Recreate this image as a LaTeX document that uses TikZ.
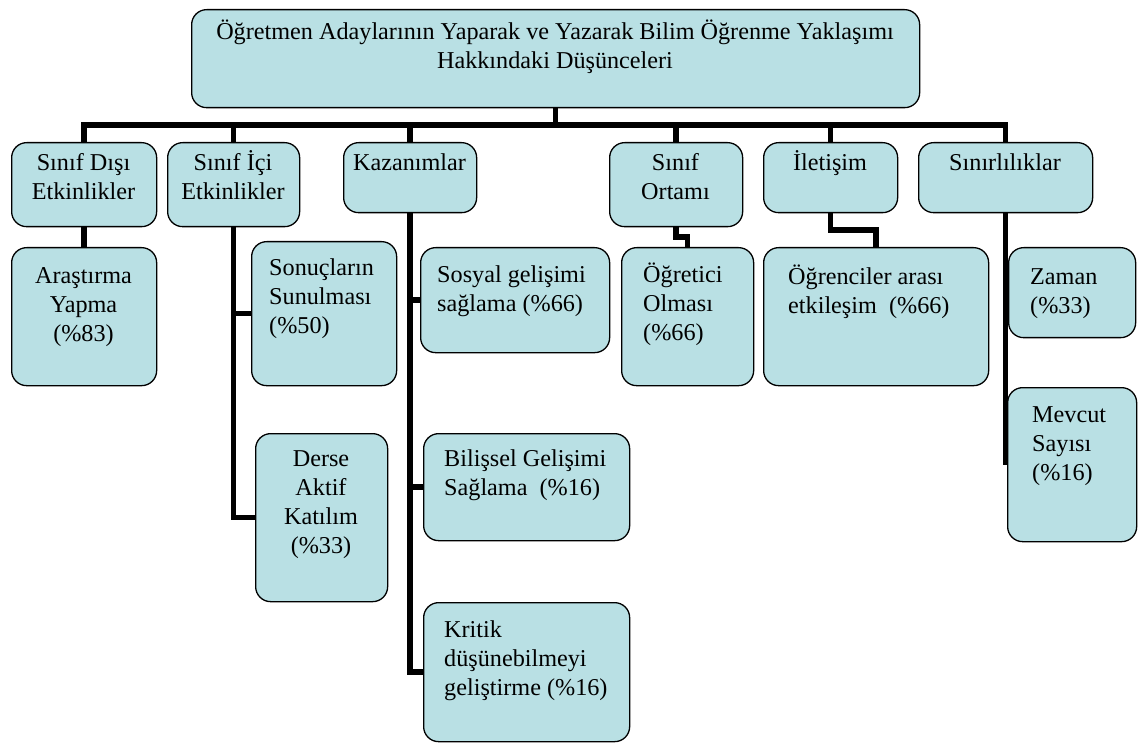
\documentclass[tikz,border=0pt]{standalone}
\usepackage{fontspec}
\setmainfont{Liberation Serif}
\usetikzlibrary{calc,backgrounds}
\definecolor{boxfill}{RGB}{185,224,228}
\begin{document}
\begin{tikzpicture}[x=1pt,y=-1pt,
  bx/.style={draw=black,line width=1.3pt,fill=boxfill,rounded corners=15pt,inner sep=0pt,anchor=north west},
  tx/.style={inner sep=0pt,font=\fontsize{24.2}{29}\selectfont},
  txc/.style={tx,anchor=north,align=center},
  txl/.style={tx,anchor=north west,align=left},
  conn/.style={line width=5.5pt,black,line join=miter}]
\useasboundingbox (0,0) rectangle (1138,743);
\newcommand\mybox[5]{\node[bx,minimum width=#4pt,minimum height=#5pt] (#1) at (#2,#3) {};}
% boxes
\mybox{top}{191}{9}{728}{98}
\mybox{SD}{11}{142}{145}{84}
\mybox{SI}{167}{142}{132}{84}
\mybox{KZ}{343}{142}{133}{70}
\mybox{SO}{609}{142}{133}{84}
\mybox{IL}{763}{142}{134}{70}
\mybox{SN}{918}{142}{174}{70}
\mybox{AR}{11}{247}{145}{138}
\mybox{SS}{251}{241}{145}{144}
\mybox{DA}{255}{433}{132}{168}
\mybox{SG}{420}{247}{189}{105}
\mybox{BG}{423}{433}{206}{107}
\mybox{KD}{423}{602}{206}{139}
\mybox{OO}{621}{247}{132}{138}
\mybox{OA}{763}{247}{225}{138}
\mybox{ZM}{1008}{247}{127}{90}
\mybox{MS}{1007}{387}{129}{154}
% texts
\node[txc] (topt) at (555,19) {\strut Öğretmen Adaylarının Yaparak ve Yazarak Bilim Öğrenme Yaklaşımı\\Hakkındaki Düşünceleri};
\node[txc] (SDt) at (83.5,150) {\strut Sınıf Dışı\\Etkinlikler};
\node[txc] (SIt) at (233,150) {\strut Sınıf İçi\\Etkinlikler};
\node[txc] (KZt) at (409.5,150) {\strut Kazanımlar};
\node[txc] (SOt) at (675.5,150) {\strut Sınıf\\Ortamı};
\node[txc] (ILt) at (830,150) {\strut İletişim};
\node[txc] (SNt) at (1005,150) {\strut Sınırlılıklar};
\node[txc] (ARt) at (83.5,263) {\strut Araştırma\\Yapma\\(\%83)};
\node[txl] (SSt) at (269,255) {\strut Sonuçların\\Sunulması\\(\%50)};
\node[txc] (DAt) at (321,446) {\strut Derse\\Aktif\\Katılım\\(\%33)};
\node[txl] (SGt) at (437,262) {\strut Sosyal gelişimi\\sağlama (\%66)};
\node[txl] (BGt) at (444,446) {\strut Bilişsel Gelişimi\\Sağlama \ (\%16)};
\node[txl] (KDt) at (444,617) {\strut Kritik\\düşünebilmeyi\\geliştirme (\%16)};
\node[txl] (OOt) at (643,262) {\strut Öğretici\\Olması\\(\%66)};
\node[txl] (OAt) at (788,264) {\strut Öğrenciler arası\\etkileşim \ (\%66)};
\node[txl] (ZMt) at (1030,264) {\strut Zaman\\(\%33)};
\node[txl] (MSt) at (1032,402) {\strut Mevcut\\Sayısı\\(\%16)};
% connectors
\begin{scope}[on background layer]
\coordinate (bar) at (0,125);
\draw[conn] (top.south) -- (top.south |- bar);
\draw[conn] (SD.north) -- (SD.north |- bar) -- (SN.north |- bar) -- (SN.north);
\foreach \n in {SI,KZ,SO,IL} \draw[conn] (\n.north) -- (\n.north |- bar);
\draw[conn] (SD.south) -- (AR.north);
\draw[conn] (SI.south) -- (SI.south |- DA.west) -- (DA.west);
\draw[conn] (SI.south |- SS.west) -- (SS.west);
\draw[conn] (KZ.south) -- (KZ.south |- KD.west) -- (KD.west);
\draw[conn] (KZ.south |- SG.west) -- (SG.west);
\draw[conn] (KZ.south |- BG.west) -- (BG.west);
\draw[conn] (SO.south) -- ($(SO.south)!0.5!(SO.south |- OO.north)$) -| (OO.north);
\draw[conn] (IL.south) -- ($(IL.south)!0.5!(IL.south |- OA.north)$) -| (OA.north);
\draw[conn] (SN.south) -- (SN.south |- MS.west);
\end{scope}
\end{tikzpicture}
\end{document}
